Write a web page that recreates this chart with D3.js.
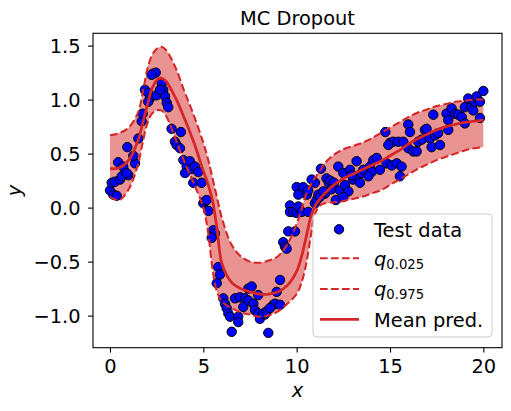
<!DOCTYPE html>
<html>
<head>
<meta charset="utf-8">
<script src="https://cdn.jsdelivr.net/npm/d3@7"></script>
<style>
  body { margin: 0; background: #fff; }
  text { font-family: "DejaVu Sans", sans-serif; fill: #000; }
</style>
</head>
<body>
<div id="chart"></div>
<script>
// Prediction curves (mean and 2.5% / 97.5% quantiles) on a shared grid
const gridX = [0, 0.5, 1, 1.5, 1.75, 2, 2.25, 2.5, 2.75, 3, 3.5, 4, 4.5, 5, 5.25, 5.5, 5.75, 6, 6.5, 7,
  7.5, 8, 8.5, 9, 9.5, 10, 10.25, 10.5, 10.75, 11, 11.25, 11.5, 12, 12.5, 13, 13.5, 14, 14.5, 15, 15.5,
  16, 16.5, 17, 17.5, 18, 18.5, 19, 19.5, 20];
const meanY = [0.36, 0.37, 0.44, 0.62, 0.78, 0.95, 1.10, 1.18, 1.20, 1.17, 1.02, 0.82, 0.60, 0.34, 0.22, 0.06, -0.22, -0.52, -0.69, -0.75,
  -0.78, -0.80, -0.80, -0.78, -0.72, -0.59, -0.46, -0.28, -0.09, 0.02, 0.08, 0.13, 0.21, 0.27, 0.31, 0.35, 0.39, 0.43, 0.48, 0.53,
  0.59, 0.64, 0.68, 0.72, 0.75, 0.77, 0.79, 0.80, 0.81];
const upperY = [0.67, 0.69, 0.74, 0.88, 1.06, 1.28, 1.41, 1.47, 1.49, 1.46, 1.30, 1.07, 0.85, 0.60, 0.45, 0.27, 0.08, -0.10, -0.34, -0.45,
  -0.50, -0.51, -0.49, -0.45, -0.34, -0.15, -0.02, 0.12, 0.21, 0.28, 0.34, 0.41, 0.49, 0.54, 0.57, 0.60, 0.64, 0.69, 0.74, 0.79,
  0.84, 0.88, 0.91, 0.94, 0.96, 0.98, 0.99, 1.00, 1.00];
const lowerY = [0.10, 0.07, 0.17, 0.40, 0.60, 0.78, 0.87, 0.90, 0.90, 0.85, 0.64, 0.42, 0.22, 0.00, -0.22, -0.58, -0.79, -0.87, -0.93, -0.97,
  -0.99, -1.01, -1.00, -0.96, -0.89, -0.80, -0.70, -0.53, -0.27, -0.05, 0.02, 0.04, 0.05, 0.06, 0.08, 0.10, 0.13, 0.16, 0.21, 0.26,
  0.31, 0.36, 0.40, 0.44, 0.47, 0.50, 0.53, 0.55, 0.56];

// Test data points
const testX = [0.00, 0.18, 0.36, 0.09, 0.27, 0.54, 0.63, 0.44, 0.71, 0.98, 0.89, 1.34, 1.25, 0.93, 1.52, 1.70, 1.75, 1.87, 2.05, 2.14,
  2.50, 2.32, 2.45, 2.23, 2.77, 2.85, 2.95, 3.04, 3.12, 3.30, 3.80, 3.48, 3.57, 3.75, 3.93, 4.11, 4.28, 4.38, 4.55, 4.73,
  4.02, 4.46, 4.91, 5.00, 2.68, 2.05,
  5.09, 5.18, 5.27, 5.53, 5.62, 5.45, 5.80, 5.89, 5.72, 6.07, 6.16, 6.25, 6.34, 6.43, 6.87, 6.87, 6.52, 6.70, 6.96, 7.23,
  7.14, 7.41, 7.59, 7.41, 7.68, 7.94, 7.77, 7.94, 8.03, 8.30, 8.21, 8.48, 8.75, 8.84, 9.11, 8.93, 9.11, 8.39, 8.57, 9.28,
  9.37, 9.46, 9.55, 9.91, 9.64, 9.64, 9.82, 10.0, 10.09, 10.27,
  10.0, 10.35, 10.09, 10.54, 10.62, 10.98, 10.8, 10.98, 11.07, 11.16, 11.52, 11.3, 11.6, 11.72, 11.8, 12.0, 11.87, 12.1, 12.32, 10.62,
  11.25, 11.43, 12.23, 12.5, 12.86, 13.21, 12.59, 12.77, 12.5, 13.03, 13.21, 13.48, 13.39, 12.95, 13.57, 13.93, 14.11, 14.29, 14.46, 14.02,
  13.84,
  14.75, 15.0, 15.17, 15.44, 15.71, 14.91, 15.98, 16.07, 14.82, 15.09, 15.36, 15.62, 15.53, 15.98, 16.25, 16.43, 16.51, 16.7, 16.87, 16.96,
  17.14, 17.23, 17.41, 17.58, 17.68, 17.32, 18.03, 18.12, 18.3, 18.48, 18.66, 18.84, 19.01, 19.19, 19.37, 19.46, 19.55, 19.64, 19.82, 20.0,
  19.82, 19.01, 18.12];
const testY = [0.16, 0.12, 0.11, 0.23, 0.24, 0.26, 0.29, 0.42, 0.38, 0.30, 0.32, 0.41, 0.48, 0.56, 0.64, 0.80, 0.87, 1.09, 1.06, 1.01,
  1.04, 1.24, 1.25, 1.23, 1.15, 1.09, 1.03, 0.97, 0.93, 0.73, 0.70, 0.61, 0.58, 0.55, 0.44, 0.38, 0.43, 0.36, 0.38, 0.33,
  0.32, 0.23, 0.23, 0.04, 1.09, 0.98,
  0.06, 0.07, -0.03, -0.21, -0.24, -0.28, -0.55, -0.62, -0.70, -0.84, -0.89, -0.93, -0.98, -1.01, -1.01, -1.06, -1.15, -0.84, -0.83, -0.84,
  -0.92, -0.75, -0.73, -0.86, -0.89, -0.81, -0.95, -0.98, -1.03, -0.99, -0.98, -1.16, -0.90, -0.89, -0.90, -0.78, -0.67, -0.96, -0.93, -0.32,
  -0.36, -0.38, -0.22, -0.22, 0.02, -0.04, -0.04, -0.05, 0.01, -0.04,
  0.19, 0.19, 0.12, 0.12, 0.16, 0.23, 0.26, 0.04, 0.07, 0.12, 0.13, 0.36, 0.27, 0.23, 0.25, 0.23, 0.17, 0.07, 0.16, -0.04,
  0.10, 0.15, 0.38, 0.32, 0.35, 0.43, 0.21, 0.15, 0.10, 0.26, 0.29, 0.32, 0.23, 0.30, 0.35, 0.38, 0.44, 0.46, 0.35, 0.33,
  0.29,
  0.70, 0.60, 0.61, 0.61, 0.61, 0.58, 0.77, 0.70, 0.41, 0.39, 0.41, 0.38, 0.29, 0.55, 0.52, 0.52, 0.61, 0.63, 0.72, 0.73,
  0.64, 0.56, 0.67, 0.69, 0.58, 0.86, 0.87, 0.81, 0.92, 0.87, 0.86, 0.84, 0.93, 1.01, 0.93, 0.90, 0.98, 1.03, 0.98, 1.08,
  0.83, 0.78, 0.72];

const xTicks = [0, 5, 10, 15, 20];
const yTicks = [-1.0, -0.5, 0.0, 0.5, 1.0, 1.5];
const legendLabels = ['Test data', 'q|0.025', 'q|0.975', 'Mean pred.'];

const W = 511, H = 411;
const plot = { left: 93, right: 502, top: 33.3, bottom: 347.7 };
const red = '#d62728';
const fs = 19.4;
const dashW = 2.08, meanW = 2.78, dash = '7.7,3.3';

const svg = d3.select('#chart').append('svg')
  .attr('width', W)
  .attr('height', H);

const x = d3.scaleLinear().domain([-0.91, 21.0]).range([plot.left, plot.right]);
const y = d3.scaleLinear().domain([-1.297, 1.614]).range([plot.bottom, plot.top]);

const curve = d3.curveCatmullRom.alpha(0.5);
const idx = d3.range(gridX.length);

// Quantile band
svg.append('path')
  .datum(idx)
  .attr('fill', red)
  .attr('fill-opacity', 0.5)
  .attr('d', d3.area().curve(curve)
    .x(i => x(gridX[i]))
    .y0(i => y(lowerY[i]))
    .y1(i => y(upperY[i])));

// Test points
svg.append('g').selectAll('circle')
  .data(d3.range(testX.length))
  .enter().append('circle')
    .attr('cx', i => x(testX[i]))
    .attr('cy', i => y(testY[i]))
    .attr('r', 4.7)
    .attr('fill', '#0000ff')
    .attr('stroke', '#000')
    .attr('stroke-width', 1);

// Quantile lines and mean
const line = ys => d3.line().curve(curve).x(i => x(gridX[i])).y(i => y(ys[i]));
[lowerY, upperY].forEach(ys => {
  svg.append('path')
    .datum(idx)
    .attr('fill', 'none')
    .attr('stroke', red)
    .attr('stroke-width', dashW)
    .attr('stroke-dasharray', dash)
    .attr('d', line(ys));
});
svg.append('path')
  .datum(idx)
  .attr('fill', 'none')
  .attr('stroke', red)
  .attr('stroke-width', meanW)
  .attr('d', line(meanY));

// Axes
const xAxis = svg.append('g')
  .attr('transform', `translate(0,${plot.bottom})`)
  .call(d3.axisBottom(x).tickValues(xTicks).tickSize(4.9).tickPadding(6.3));
const yAxis = svg.append('g')
  .attr('transform', `translate(${plot.left},0)`)
  .call(d3.axisLeft(y).tickValues(yTicks).tickFormat(d3.format('.1f')).tickSize(4.9).tickPadding(7.5));
[xAxis, yAxis].forEach(a => {
  a.select('.domain').remove();
  a.selectAll('line').attr('stroke', '#000').attr('stroke-width', 1.1);
  a.selectAll('text').attr('font-size', fs).attr('font-family', '"DejaVu Sans", sans-serif').attr('fill', '#000');
});
yAxis.selectAll('text').attr('dy', '0.36em');

svg.append('rect')
  .attr('x', plot.left).attr('y', plot.top)
  .attr('width', plot.right - plot.left)
  .attr('height', plot.bottom - plot.top)
  .attr('fill', 'none')
  .attr('stroke', '#000')
  .attr('stroke-width', 1.1);

// Title and axis labels
svg.append('text')
  .attr('x', (plot.left + plot.right) / 2).attr('y', 25)
  .attr('text-anchor', 'middle').attr('font-size', fs)
  .text('MC Dropout');
svg.append('text')
  .attr('x', (plot.left + plot.right) / 2).attr('y', 397)
  .attr('text-anchor', 'middle').attr('font-size', fs).attr('font-style', 'italic')
  .text('x');
svg.append('text')
  .attr('transform', `translate(21,${(plot.top + plot.bottom) / 2}) rotate(-90)`)
  .attr('text-anchor', 'middle').attr('font-size', fs).attr('font-style', 'italic')
  .text('y');

// Legend
const lg = svg.append('g').attr('transform', 'translate(313,214)');
lg.append('rect')
  .attr('width', 179).attr('height', 123).attr('rx', 4)
  .attr('fill', '#fff').attr('fill-opacity', 0.8)
  .attr('stroke', '#cccccc').attr('stroke-width', 1);

const rowY = [15.3, 44.3, 75, 105.3];
legendLabels.forEach((lab, k) => {
  const row = lg.append('g').attr('transform', `translate(0,${rowY[k]})`);
  if (k === 0) {
    row.append('circle').attr('cx', 26).attr('cy', 0).attr('r', 4.7)
      .attr('fill', '#0000ff').attr('stroke', '#000').attr('stroke-width', 1);
  } else {
    row.append('line').attr('x1', 7).attr('x2', 46)
      .attr('stroke', red)
      .attr('stroke-width', k === 3 ? meanW : dashW)
      .attr('stroke-dasharray', k === 3 ? null : dash);
  }
  const t = row.append('text').attr('x', 61).attr('y', 7.3).attr('font-size', fs);
  if (lab.includes('|')) {
    const [base, sub] = lab.split('|');
    t.append('tspan').attr('font-style', 'italic').text(base);
    t.append('tspan').attr('font-size', 13.2).attr('dy', 3).text(sub);
  } else {
    t.text(lab);
  }
});
</script>
</body>
</html>
